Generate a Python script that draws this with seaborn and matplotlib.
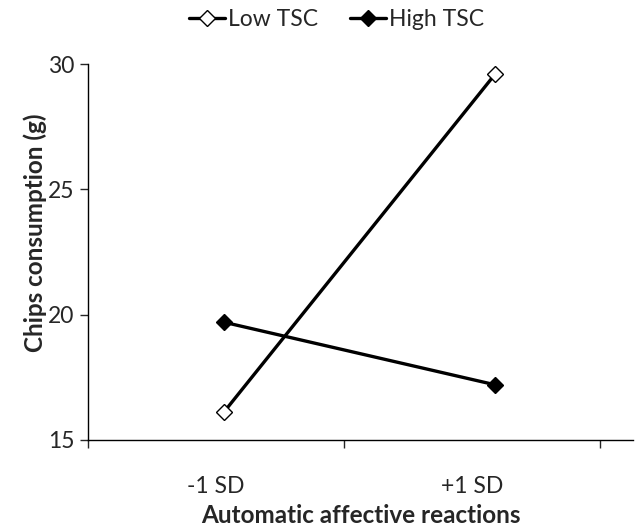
import numpy as np
import pandas as pd
import matplotlib
matplotlib.use("Agg")
import matplotlib.pyplot as plt
import seaborn as sns

categories = ["-1 SD", "+1 SD"]
low_tsc = [16.1, 29.6]
high_tsc = [19.7, 17.2]

sns.set_style("white")
plt.rcParams['font.family'] = ['Lato', 'DejaVu Sans']

x_pos = [0, 1]
df = pd.DataFrame({
    "x": x_pos * 2,
    "value": low_tsc + high_tsc,
    "group": ["Low TSC"] * 2 + ["High TSC"] * 2,
})

fig = plt.figure(figsize=(6.35, 5.3), dpi=100)
ax = fig.add_axes([0.1386, 0.170, 0.859, 0.709])

styles = {"Low TSC": "white", "High TSC": "black"}
for name, face in styles.items():
    sub = df[df.group == name]
    sns.lineplot(data=sub, x="x", y="value", ax=ax, color="black", lw=2.4,
                 marker="D", markersize=8, markerfacecolor=face,
                 markeredgecolor="black", markeredgewidth=1.0, label=name)

ax.set_xlim(-0.5, 1.51)
ax.set_ylim(15, 30)
ax.set_yticks([15, 20, 25, 30])
ax.set_xticks([-0.03, 0.915])
ax.set_xticklabels(categories)
ax.set_xticks([-0.5, 0.445, 1.385], minor=True)
ax.tick_params(axis="x", which="major", length=0, pad=26, labelsize=16.5)
ax.tick_params(axis="x", which="minor", length=6, width=1, direction="out", bottom=True)
ax.tick_params(axis="y", length=6, width=1, direction="out", left=True, labelsize=16.5, pad=4)

for s in ["top", "right"]:
    ax.spines[s].set_visible(False)
for s in ["left", "bottom"]:
    ax.spines[s].set_color("black")
    ax.spines[s].set_linewidth(1)

ax.set_xlabel("Automatic affective reactions", fontsize=17.5, fontweight="bold", labelpad=5)
ax.set_ylabel("Chips consumption (g)", fontsize=17.5, fontweight="bold")
ax.yaxis.set_label_coords(-0.075, 0.55)

ax.legend(loc="center", bbox_to_anchor=(0.455, 1.12), ncol=2, frameon=False,
          fontsize=16.5, handlelength=1.6, handletextpad=0.1, columnspacing=1.4,
          borderaxespad=0)

fig.savefig("out.png", dpi=100)
